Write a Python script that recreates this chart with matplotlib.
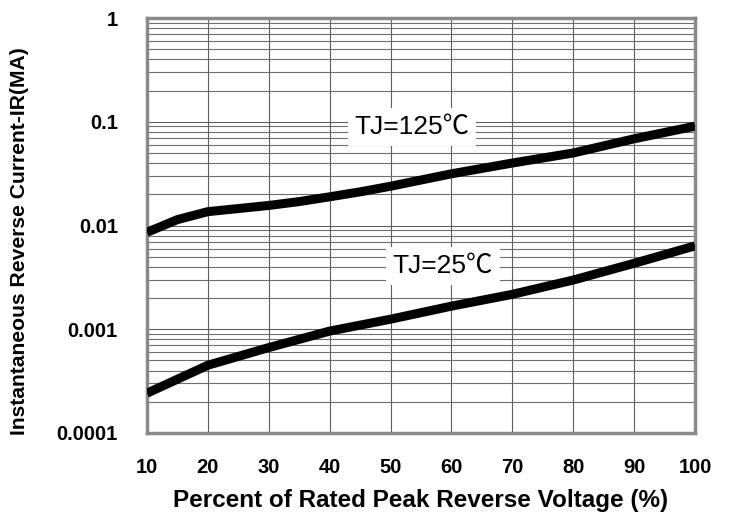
import matplotlib
matplotlib.use("Agg")
import matplotlib.pyplot as plt
from matplotlib.ticker import FixedLocator, LogLocator, NullFormatter, FixedFormatter

x_125 = [10, 15, 20, 30, 35, 40, 45, 50, 60, 70, 80, 90, 100]
ir_125 = [0.0086, 0.0114, 0.0136, 0.0156, 0.0170, 0.0189, 0.0211, 0.0239, 0.0315, 0.040, 0.050, 0.0685, 0.0906]
x_25 = [10, 15, 20, 30, 40, 50, 60, 70, 80, 90, 100]
ir_25 = [0.000242, 0.00033, 0.00045, 0.000666, 0.00096, 0.00125, 0.00167, 0.00217, 0.00298, 0.00432, 0.00636]

x_ticks = [10, 20, 30, 40, 50, 60, 70, 80, 90, 100]
y_ticks = [0.0001, 0.001, 0.01, 0.1, 1]
y_tick_labels = ["0.0001", "0.001", "0.01", "0.1", "1"]

fam = ["Liberation Sans", "Noto Sans CJK SC", "DejaVu Sans"]
plt.rcParams["font.family"] = fam

fig = plt.figure(figsize=(7.31, 5.18), dpi=100)
ax = fig.add_axes([147/731, 85/518, 548/731, 415/518])

ax.set_yscale("log")
ax.set_xlim(10, 100)
ax.set_ylim(1e-4, 1)

ax.plot(x_125, ir_125, color="black", lw=6.5, solid_capstyle="butt", solid_joinstyle="round", zorder=3)
ax.plot(x_25, ir_25, color="black", lw=6.5, solid_capstyle="butt", solid_joinstyle="round", zorder=3)

ax.xaxis.set_major_locator(FixedLocator(x_ticks))
ax.yaxis.set_major_locator(FixedLocator(y_ticks))
ax.yaxis.set_major_formatter(FixedFormatter(y_tick_labels))
ax.yaxis.set_minor_locator(LogLocator(base=10, subs=range(2, 10)))
ax.yaxis.set_minor_formatter(NullFormatter())

ax.grid(True, which="major", axis="both", color="#5e5e5e", lw=0.8, zorder=1)
ax.grid(True, which="minor", axis="y", color="#6e6e6e", lw=0.8, zorder=1)

ax.tick_params(which="both", length=0)
ax.tick_params(axis="y", pad=21, labelsize=14.5)
ax.tick_params(axis="x", pad=18, labelsize=14.5)
for lbl in ax.get_xticklabels() + ax.get_yticklabels():
    lbl.set_fontweight("bold")

for s in ax.spines.values():
    s.set_color("#8a8a8a")
    s.set_linewidth(2.5)

ax.set_xlabel("Percent of Rated Peak Reverse Voltage (%)", fontsize=17.5, fontweight="bold", labelpad=9)
ax.set_ylabel("Instantaneous Reverse Current-IR(MA)", fontsize=15.2, fontweight="bold")
ax.yaxis.set_label_coords(-0.216, 0.463)

bbox = dict(facecolor="white", edgecolor="none", pad=5)
ax.text(53.5, 0.0895, "TJ=125℃", fontsize=19, ha="center", va="center", bbox=bbox, zorder=2, family=fam)
ax.text(58.6, 0.00405, "TJ=25℃", fontsize=19, ha="center", va="center", bbox=bbox, zorder=2, family=fam)

fig.savefig("out.png", dpi=100, facecolor="white")
